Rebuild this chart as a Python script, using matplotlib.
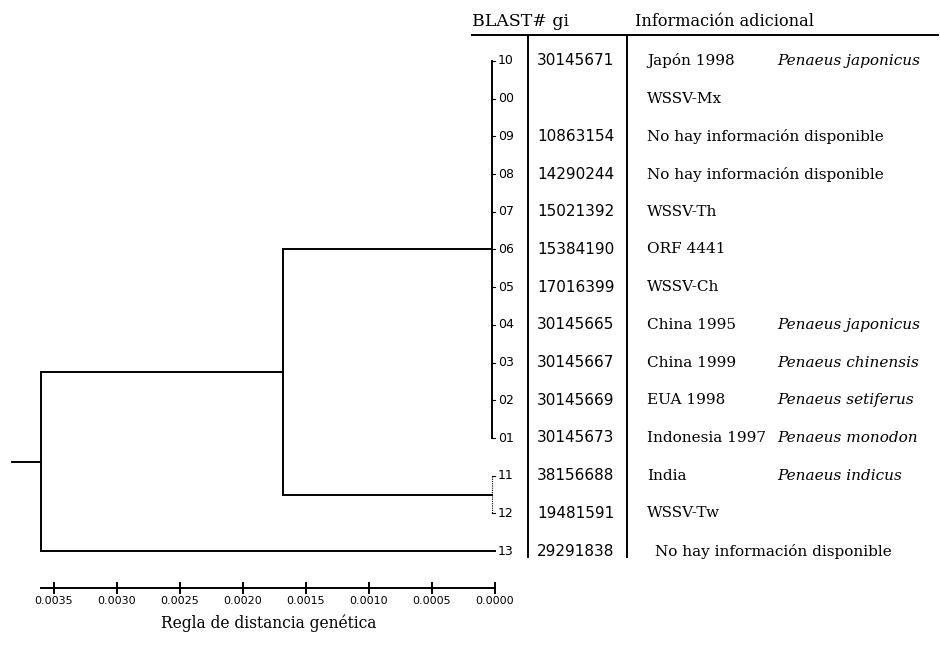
import matplotlib
matplotlib.use("Agg")
import matplotlib.pyplot as plt
import matplotlib.transforms as mtransforms

# ---------------- data ----------------
leaf_ids = ["10", "00", "09", "08", "07", "06", "05", "04", "03", "02", "01", "11", "12", "13"]
gi_numbers = ["30145671", "", "10863154", "14290244", "15021392", "15384190", "17016399",
              "30145665", "30145667", "30145669", "30145673", "38156688", "19481591", "29291838"]
info_text = ["Japón 1998", "WSSV-Mx", "No hay información disponible", "No hay información disponible",
             "WSSV-Th", "ORF 4441", "WSSV-Ch", "China 1995", "China 1999", "EUA 1998",
             "Indonesia 1997", "India", "WSSV-Tw", "No hay información disponible"]
species = ["Penaeus japonicus", "", "", "", "", "", "", "Penaeus japonicus", "Penaeus chinensis",
           "Penaeus setiferus", "Penaeus monodon", "Penaeus indicus", "", ""]

# node heights (genetic distance)
root_height = 0.0036
root_stub = 0.00383
nodeA_height = 0.00168
clade1_height = 0.00002   # leaves 10 ... 01 (rows 0-10)
clade2_height = 0.00002   # leaves 11, 12 (rows 11-12)
leaf13_height = 0.0

scale_ticks = [0.0035, 0.0030, 0.0025, 0.0020, 0.0015, 0.0010, 0.0005, 0.0000]
scale_label = "Regla de distancia genética"
header_left = "BLAST# gi"
header_right = "Información adicional"

# ---------------- figure ----------------
W, H = 940, 650
fig = plt.figure(figsize=(W / 100, H / 100), dpi=100)
ax = fig.add_axes([0, 0, 1, 1])

px_per_unit = 126000.0
x_zero_px = 495.0
ax.set_xlim(x_zero_px / px_per_unit, -(W - x_zero_px) / px_per_unit)
row0_px, row_step = 61.0, 37.7
ax.set_ylim((H - row0_px) / row_step, -row0_px / row_step)

lw = 1.4
col = "black"

clade1_rows = list(range(0, 11))
clade2_rows = [11, 12]
leaf13_row = 13
clade1_mid = (clade1_rows[0] + clade1_rows[-1]) / 2
clade2_mid = (clade2_rows[0] + clade2_rows[-1]) / 2
nodeA_mid = (clade1_mid + clade2_mid) / 2
root_mid = (nodeA_mid + leaf13_row) / 2

# root
ax.plot([root_stub, root_height], [root_mid, root_mid], color=col, lw=lw)
ax.plot([root_height, root_height], [nodeA_mid, leaf13_row], color=col, lw=lw)
ax.plot([root_height, nodeA_height], [nodeA_mid, nodeA_mid], color=col, lw=lw)
ax.plot([root_height, leaf13_height], [leaf13_row, leaf13_row], color=col, lw=lw)
# node A
ax.plot([nodeA_height, nodeA_height], [clade1_mid, clade2_mid], color=col, lw=lw)
ax.plot([nodeA_height, clade1_height], [clade1_mid, clade1_mid], color=col, lw=lw)
ax.plot([nodeA_height, clade2_height], [clade2_mid, clade2_mid], color=col, lw=lw)
# clades
ax.plot([clade1_height, clade1_height], [clade1_rows[0], clade1_rows[-1]], color=col, lw=lw)
ax.plot([clade2_height, clade2_height], [clade2_rows[0], clade2_rows[-1]], color=col, lw=0.8,
        linestyle=(0, (1, 1)))
for r in clade1_rows + clade2_rows:
    h = clade1_height if r in clade1_rows else clade2_height
    ax.plot([h, 0.0], [r, r], color=col, lw=0.8)

# ---------------- table text ----------------
tr = mtransforms.blended_transform_factory(ax.transAxes, ax.transData)
fx = lambda px: px / W

serif = "DejaVu Serif"
for i in range(len(leaf_ids)):
    ax.text(fx(498), i, leaf_ids[i], transform=tr, ha="left", va="center",
            fontsize=9, family="DejaVu Sans")
    ax.text(fx(537), i, gi_numbers[i], transform=tr, ha="left", va="center",
            fontsize=11, family="DejaVu Sans")
    ax.text(fx(655 if i == 13 else 647), i, info_text[i], transform=tr, ha="left", va="center",
            fontsize=11, family=serif)
    if species[i]:
        ax.text(fx(777), i, species[i], transform=tr, ha="left", va="center",
                fontsize=11, family=serif, style="italic")

# header
header_y = (22 - row0_px) / row_step
line_y = (35 - row0_px) / row_step
sep_bottom = (557 - row0_px) / row_step
ax.text(fx(472), header_y, header_left, transform=tr, ha="left", va="center",
        fontsize=12.5, family=serif)
ax.text(fx(635), header_y, header_right, transform=tr, ha="left", va="center",
        fontsize=11.6, family=serif)
ax.plot([fx(472), fx(938)], [line_y, line_y], transform=tr, color=col, lw=lw)
for sx in (528, 627):
    ax.plot([fx(sx), fx(sx)], [line_y, sep_bottom], transform=tr, color=col, lw=lw)

# ---------------- scale axis ----------------
for s in ("top", "left", "right"):
    ax.spines[s].set_visible(False)
axis_row = (588 - row0_px) / row_step
ax.spines["bottom"].set_position(("data", axis_row))
ax.spines["bottom"].set_bounds(root_height, 0.0)
ax.spines["bottom"].set_linewidth(lw)
ax.set_xticks(scale_ticks)
ax.set_xticklabels([f"{t:.4f}" for t in scale_ticks])
ax.tick_params(axis="x", direction="inout", length=9, width=lw, pad=1, labelsize=8)
ax.set_yticks([])
ax.text((root_height + 0.0) / 2, (623 - row0_px) / row_step, scale_label, ha="center",
        va="center", fontsize=11.2, family=serif)

fig.savefig("out.png", dpi=100)
